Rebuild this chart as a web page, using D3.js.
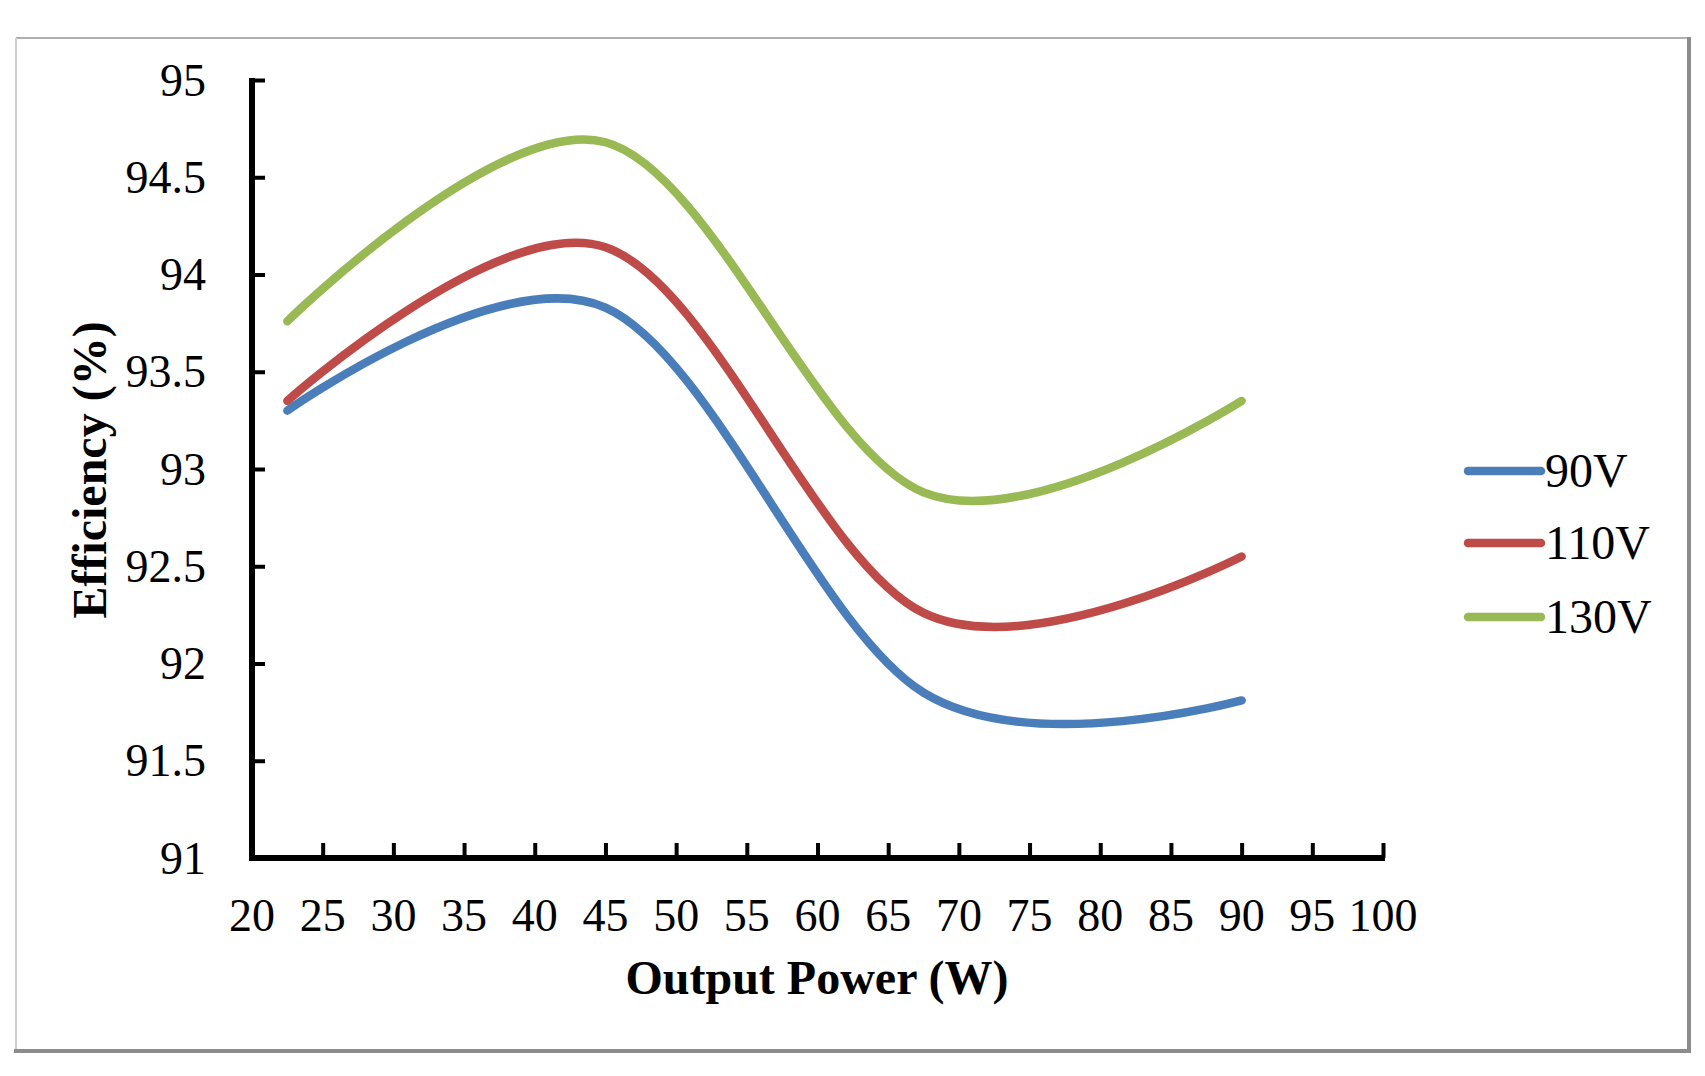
<!DOCTYPE html>
<html>
<head>
<meta charset="utf-8">
<script src="https://cdn.jsdelivr.net/npm/d3@7/dist/d3.min.js"></script>
<style>
  html, body { margin: 0; padding: 0; background: #fff; }
  svg { display: block; }
  text { font-family: "Liberation Serif", "Times New Roman", serif; fill: #000; }
</style>
</head>
<body>
<svg id="chart" width="1705" height="1076"></svg>
<script>
// ---- data ----
const powerW = [22.5, 45, 67.5, 90];
const eff90V = [93.30, 93.83, 91.85, 91.81];
const eff110V = [93.35, 94.14, 92.26, 92.55];
const eff130V = [93.76, 94.68, 92.88, 93.35];
const seriesNames = ["90V", "110V", "130V"];
const seriesColors = ["#4A7EBB", "#BE4B48", "#98B954"];
const xTicks = [20, 25, 30, 35, 40, 45, 50, 55, 60, 65, 70, 75, 80, 85, 90, 95, 100];
const yTicks = [91, 91.5, 92, 92.5, 93, 93.5, 94, 94.5, 95];

const series = [eff90V, eff110V, eff130V].map((vals, i) => ({
  name: seriesNames[i], color: seriesColors[i],
  pts: vals.map((v, j) => [powerW[j], v])
}));

const svg = d3.select("#chart");
svg.append("rect").attr("width", 1705).attr("height", 1076).attr("fill", "#fff");

// frame
svg.append("line").attr("x1", 16).attr("x2", 1688).attr("y1", 38).attr("y2", 38)
  .attr("stroke", "#b0b0b0").attr("stroke-width", 2);
svg.append("line").attr("x1", 16).attr("x2", 16).attr("y1", 38).attr("y2", 1050)
  .attr("stroke", "#d0d0d0").attr("stroke-width", 2);
svg.append("line").attr("x1", 1689).attr("x2", 1689).attr("y1", 37).attr("y2", 1052)
  .attr("stroke", "#8c8c8c").attr("stroke-width", 4);
svg.append("line").attr("x1", 14).attr("x2", 1691).attr("y1", 1051).attr("y2", 1051)
  .attr("stroke", "#8c8c8c").attr("stroke-width", 4);

// scales
const x = d3.scaleLinear().domain([20, 100]).range([252, 1383]);
const y = d3.scaleLinear().domain([91, 95]).range([858, 80]);

// y axis
const yAxis = d3.axisRight(y).tickValues(yTicks).tickSize(13).tickFormat("");
const gy = svg.append("g").attr("transform", `translate(${x(20)},0)`).call(yAxis);
gy.select(".domain").remove();
gy.selectAll(".tick line").attr("stroke", "#000").attr("stroke-width", 4);
svg.append("line").attr("x1", x(20)).attr("x2", x(20)).attr("y1", y(95) - 2).attr("y2", y(91) + 3)
  .attr("stroke", "#000").attr("stroke-width", 6);

// x axis
const xAxis = d3.axisTop(x).tickValues(xTicks).tickSize(15).tickFormat("");
const gx = svg.append("g").attr("transform", `translate(0,${y(91)})`).call(xAxis);
gx.select(".domain").remove();
gx.selectAll(".tick line").attr("stroke", "#000").attr("stroke-width", 4);
svg.append("line").attr("x1", x(20) - 3).attr("x2", x(100) + 2).attr("y1", y(91)).attr("y2", y(91))
  .attr("stroke", "#000").attr("stroke-width", 6);

// tick labels
svg.append("g").selectAll("text").data(yTicks).join("text")
  .attr("x", 206).attr("y", d => y(d)).attr("dy", "0.34em")
  .attr("text-anchor", "end").style("font-size", "46px")
  .text(d => d3.format("")(d));
svg.append("g").selectAll("text").data(xTicks).join("text")
  .attr("x", d => x(d)).attr("y", 931)
  .attr("text-anchor", "middle").style("font-size", "46px")
  .text(d => d);

// axis titles
svg.append("text").attr("x", 817).attr("y", 994).attr("text-anchor", "middle")
  .style("font-size", "48px").style("font-weight", "bold").text("Output Power (W)");
svg.append("text").attr("transform", "translate(106,470) rotate(-90)").attr("text-anchor", "middle")
  .style("font-size", "48px").style("font-weight", "bold").text("Efficiency (%)");

// lines
const line = d3.line().x(d => x(d[0])).y(d => y(d[1])).curve(d3.curveCardinal.tension(0));
svg.append("g").selectAll("path").data(series).join("path")
  .attr("d", d => line(d.pts)).attr("fill", "none")
  .attr("stroke", d => d.color).attr("stroke-width", 8.5)
  .attr("stroke-linecap", "round").attr("stroke-linejoin", "round");

// legend
const legendY = [471, 543, 617];
const lg = svg.append("g").selectAll("g").data(series).join("g")
  .attr("transform", (d, i) => `translate(0,${legendY[i]})`);
lg.append("line").attr("x1", 1468).attr("x2", 1541).attr("y1", 0).attr("y2", 0)
  .attr("stroke", d => d.color).attr("stroke-width", 8.5).attr("stroke-linecap", "round");
lg.append("text").attr("x", 1545).attr("y", 16).style("font-size", "48px").text(d => d.name);
</script>
</body>
</html>
